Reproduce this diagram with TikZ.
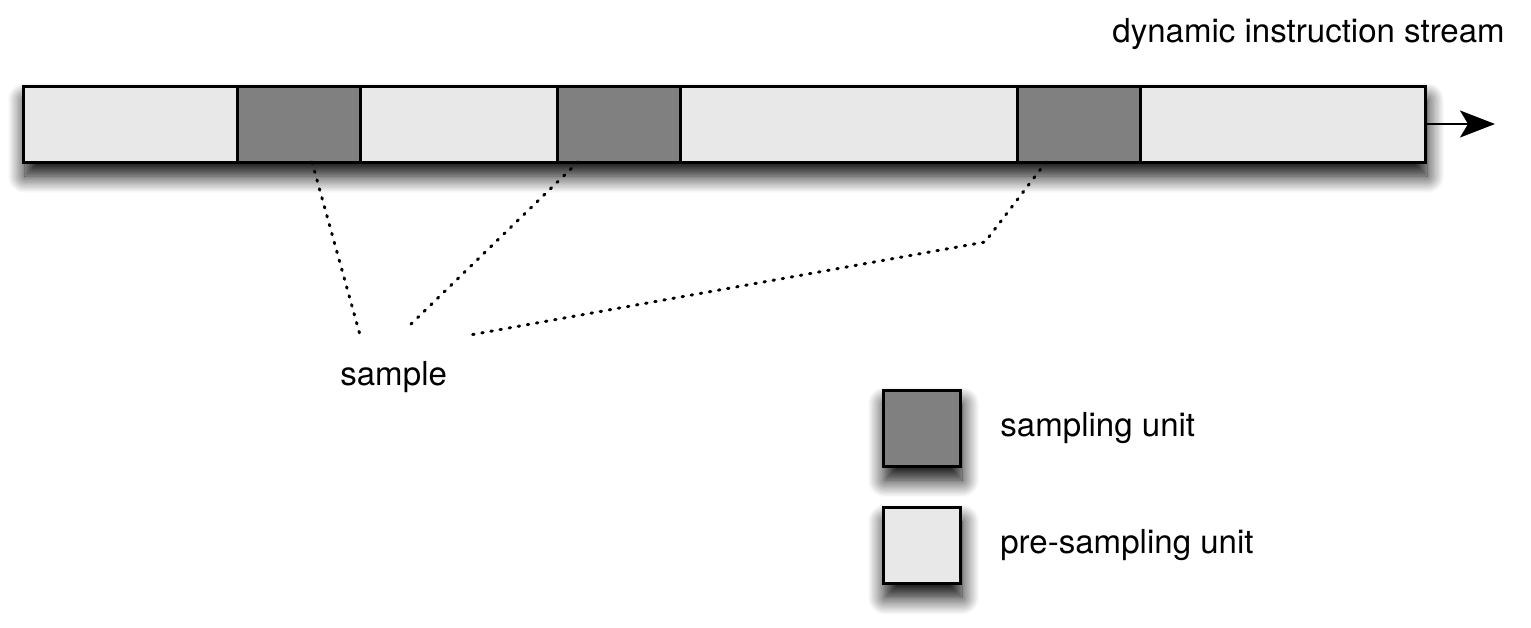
\documentclass[tikz,border=0pt]{standalone}
\usepackage{fontspec}
\setmainfont{TeX Gyre Heros}
\usetikzlibrary{positioning,arrows.meta,shadows.blur}
\definecolor{sampgray}{gray}{0.5}
\definecolor{pregray}{gray}{0.91}
\tikzset{
  unit/.style={draw=black,line width=0.6mm,outer sep=0pt,inner sep=0pt,minimum height=15.2mm},
  samp/.style={unit,fill=sampgray,minimum width=24.6mm},
  presamp/.style={unit,fill=pregray},
  shade/.style={blur shadow={shadow xshift=0.4mm,shadow yshift=-2.8mm,shadow blur radius=3.4mm,shadow blur steps=14,shadow opacity=100}},
  dotline/.style={line width=0.6mm,dash pattern=on 0.3mm off 1.55mm,line cap=round},
  txt/.style={inner sep=0pt,font=\fontsize{18.8pt}{22pt}\selectfont}
}
\begin{document}
\begin{tikzpicture}[x=0.2mm,y=-0.2mm]
\useasboundingbox (0,0) rectangle (1531,627);
% stream of units
\node[presamp,shade,minimum width=280.4mm,anchor=west] (bar) at (23,124) {};
\node[presamp,minimum width=42.8mm,anchor=west] (p1) at (23,124) {};
\node[samp,right=0pt of p1] (s1) {};
\node[presamp,minimum width=39.4mm,right=0pt of s1] (p2) {};
\node[samp,right=0pt of p2] (s2) {};
\node[presamp,minimum width=67.4mm,right=0pt of s2] (p3) {};
\node[samp,right=0pt of p3] (s3) {};
\node[presamp,minimum width=57mm,right=0pt of s3] (p4) {};
\coordinate (head) at (1495,124);
\draw[-{Stealth[length=7mm,width=5.4mm,inset=1.6mm]},line width=0.4mm] (p4.east) -- (head);
\node[txt,anchor=base east] (stream) at (1505,42) {dynamic instruction stream};
% sample
\coordinate (e1) at (360,335);
\coordinate (e2) at (408,327);
\coordinate (e3) at (470,335);
\coordinate (bend) at (985,242);
\draw[dotline] ([xshift=2.7mm]s1.south) -- (e1);
\draw[dotline] ([xshift=-8.1mm]s2.south) -- (e2);
\draw[dotline] ([xshift=-6.5mm]s3.south) -- (bend) -- (e3);
\node[txt,anchor=base west] (sample) at (340,385) {sample};
% legend
\node[samp,shade,minimum width=15.4mm] (k1) at (921.5,428) {};
\node[presamp,shade,minimum width=15.4mm] (k2) at (921.5,545.5) {};
\node[txt,right=8mm of k1] (k1t) {sampling unit};
\node[txt,right=8mm of k2] (k2t) {pre-sampling unit};
\end{tikzpicture}
\end{document}
